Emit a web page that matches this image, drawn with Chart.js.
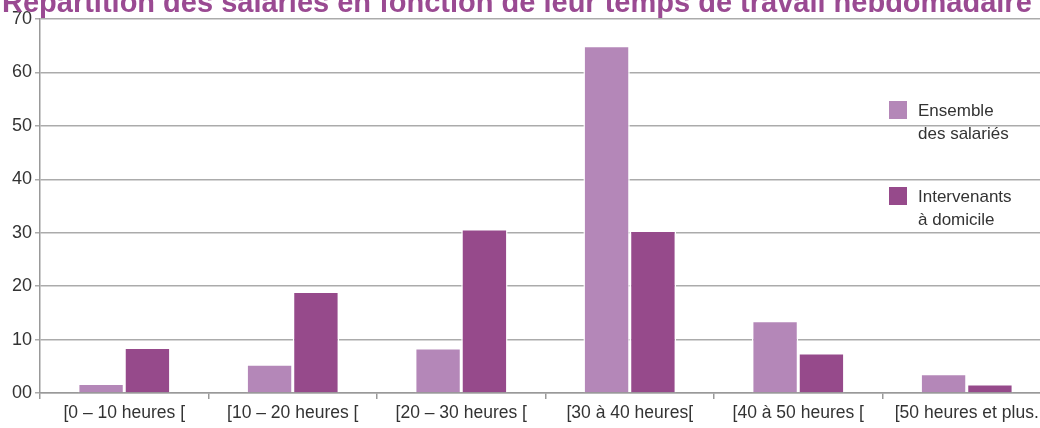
<!DOCTYPE html>
<html lang="fr">
<head>
    <meta charset="UTF-8">
    <title>Répartition des salariés</title>
    <script src="https://cdn.jsdelivr.net/npm/chart.js"></script>
    <style>
        body { margin: 0; overflow: hidden; background: #fff; }
        #wrap { position: relative; width: 1051px; height: 428px; }
    </style>
</head>
<body>
    <div id="wrap"><canvas id="barChart"></canvas></div>

    <script>
        const titleText = 'Répartition des salariés en fonction de leur temps de travail hebdomadaire';
        const categories = ['[0 – 10 heures [', '[10 – 20 heures [', '[20 – 30 heures [', '[30 à 40 heures[', '[40 à 50 heures [', '[50 heures et plus.'];
        const ensemble = [1.8, 5.4, 8.4, 65.0, 13.5, 3.6];
        const intervenants = [8.5, 19.0, 30.7, 30.4, 7.5, 1.7];
        const seriesNames = [['Ensemble', 'des salariés'], ['Intervenants', 'à domicile']];
        const yTicks = [0, 10, 20, 30, 40, 50, 60, 70];

        const lightPurple = '#b487b8';
        const darkPurple = '#964a8b';
        const gridGray = '#ababab';

        // title (cut at the top like in the original) + legend drawn inside the plot
        const extras = {
            id: 'extras',
            afterDraw(chart) {
                const ctx = chart.ctx;
                ctx.save();
                ctx.fillStyle = '#9a4a92';
                ctx.font = 'bold 29px "Liberation Sans", Arial, sans-serif';
                ctx.textBaseline = 'alphabetic';
                ctx.textAlign = 'left';
                ctx.fillText(titleText, 2, 12);

                const colors = [lightPurple, darkPurple];
                const tops = [101, 187];
                ctx.font = '17px "Liberation Sans", Arial, sans-serif';
                ctx.textBaseline = 'middle';
                chart.data.datasets.forEach((ds, i) => {
                    ctx.fillStyle = colors[i];
                    ctx.fillRect(889, tops[i], 18, 18);
                    ctx.fillStyle = '#333';
                    ds.label.forEach((line, j) => {
                        ctx.fillText(line, 918, tops[i] + 10 + j * 23);
                    });
                });
                ctx.restore();
            }
        };

        new Chart(document.getElementById('barChart').getContext('2d'), {
            type: 'bar',
            data: {
                labels: categories,
                datasets: [
                    { label: seriesNames[0], data: ensemble, backgroundColor: lightPurple },
                    { label: seriesNames[1], data: intervenants, backgroundColor: darkPurple }
                ]
            },
            options: {
                responsive: true,
                maintainAspectRatio: false,
                animation: false,
                layout: { padding: { top: 19, bottom: 0, left: 0, right: 0 } },
                datasets: {
                    bar: {
                        categoryPercentage: 0.55,
                        barPercentage: 1,
                        borderColor: '#ffffff',
                        borderWidth: 1.5
                    }
                },
                plugins: {
                    legend: { display: false },
                    title: { display: false },
                    tooltip: { enabled: false }
                },
                scales: {
                    x: {
                        grid: { display: true, drawOnChartArea: false, color: '#999', tickLength: 6, lineWidth: 1.5 },
                        border: { color: '#999', width: 1.5 },
                        ticks: { color: '#333', font: { family: '"Liberation Sans", Arial, sans-serif', size: 17.5 }, padding: 4, maxRotation: 0, autoSkip: false }
                    },
                    y: {
                        min: 0,
                        max: 70,
                        afterFit(scale) { scale.width = 40; },
                        afterBuildTicks(scale) { scale.ticks = yTicks.map(v => ({ value: v })); },
                        grid: { color: gridGray, lineWidth: 1.5, tickLength: 5 },
                        border: { color: '#999', width: 1.5 },
                        ticks: {
                            color: '#333',
                            padding: 3,
                            font: { family: '"Liberation Sans", Arial, sans-serif', size: 18 },
                            callback: v => v === 0 ? '00' : v
                        }
                    }
                }
            },
            plugins: [extras]
        });
    </script>
</body>
</html>
